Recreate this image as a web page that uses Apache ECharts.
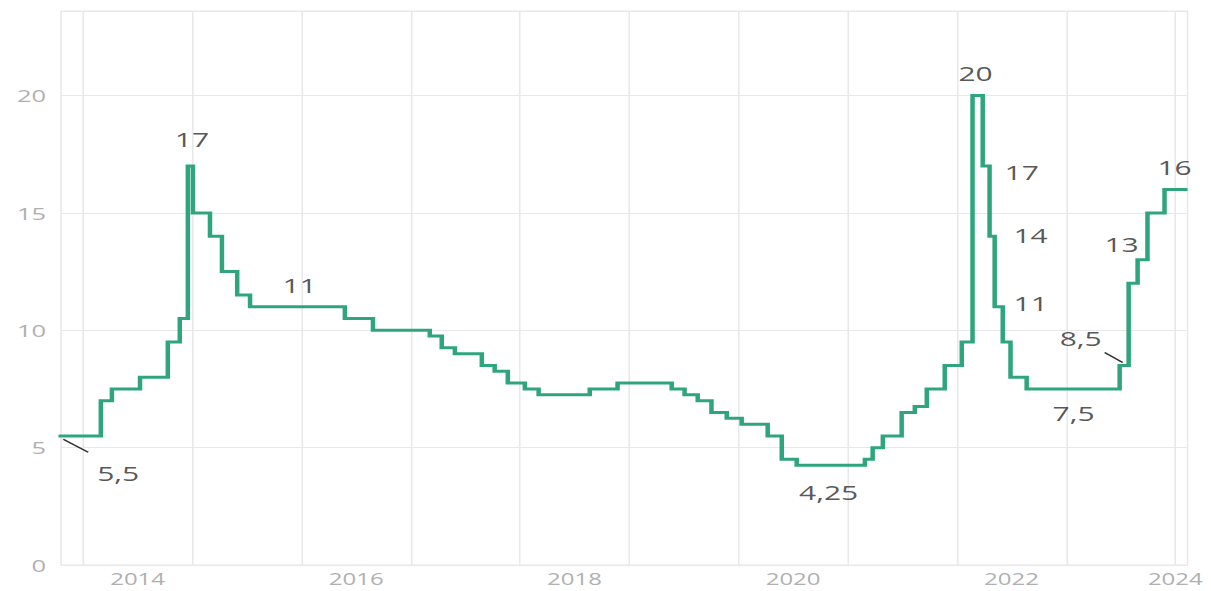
<!DOCTYPE html>
<html>
<head>
<meta charset="utf-8">
<script src="https://cdn.jsdelivr.net/npm/echarts@6/dist/echarts.min.js"></script>
<style>
  html, body { margin: 0; padding: 0; background: #fff; overflow: hidden; }
  #wrap { width: 1211px; height: 591px; overflow: hidden; }
  #chart { width: 807.33px; height: 591px; transform: scaleX(1.5); transform-origin: 0 0; }
</style>
</head>
<body>
<div id="wrap"><div id="chart"></div></div>
<script>
// ---- data ----
const rateDates = [
  '2013-09-13','2014-03-01','2014-04-07','2014-07-10','2014-10-11','2014-11-20','2014-12-17',
  '2015-01-03','2015-03-01','2015-04-10','2015-05-31','2015-07-13',
  '2016-05-25','2016-08-27',
  '2017-03-05','2017-04-14','2017-05-28','2017-08-26','2017-10-08','2017-11-21',
  '2018-01-17','2018-03-04','2018-08-22','2018-11-23',
  '2019-05-23','2019-07-05','2019-08-18','2019-10-03','2019-11-23',
  '2020-01-12','2020-04-08','2020-05-25','2020-07-14',
  '2021-02-27','2021-03-25','2021-04-28','2021-06-30','2021-08-13','2021-09-22','2021-11-21',
  '2022-01-17','2022-02-22','2022-03-28','2022-04-20','2022-05-07','2022-06-03','2022-06-29','2022-08-22',
  '2023-06-29','2023-07-29','2023-08-28','2023-09-30','2023-11-26',
  '2024-02-11'
];
const rateValues = [
  5.5, 7, 7.5, 8, 9.5, 10.5, 17,
  15, 14, 12.5, 11.5, 11,
  10.5, 10,
  9.75, 9.25, 9, 8.5, 8.25, 7.75,
  7.5, 7.25, 7.5, 7.75,
  7.5, 7.25, 7, 6.5, 6.25,
  6, 5.5, 4.5, 4.25,
  4.5, 5, 5.5, 6.5, 6.75, 7.5, 8.5,
  9.5, 20, 17, 14, 11, 9.5, 8, 7.5,
  8.5, 12, 13, 15, 16,
  16
];
const xMin = '2013-10-19';
const xMax = '2024-02-11';
const yearLines = ['2014-01-01','2015-01-01','2016-01-01','2017-01-01','2018-01-01','2019-01-01',
                   '2020-01-01','2021-01-01','2022-01-01','2023-01-01','2024-01-01'];
const xLabelDates = ['2014-07-02','2016-07-02','2018-07-02','2020-07-02','2022-07-02','2024-01-01'];
const xLabels = ['2014','2016','2018','2020','2022','2024'];
const yTicks = [0, 5, 10, 15, 20];

const annoDates  = ['2013-11-01','2014-12-17','2015-07-13','2020-07-14','2022-02-22','2022-03-28',
                    '2022-04-20','2022-05-07','2022-08-22','2023-06-29','2023-08-28','2023-11-26'];
const annoValues = [5.5, 17, 11, 4.25, 20, 17, 14, 11, 7.5, 8.5, 13, 16];
const annoTexts  = ['5,5','17','11','4,25','20','17','14','11','7,5','8,5','13','16'];

// ---- styles (label offsets in chart px) ----
const annoOffsets = [[35.5,37],[2.7,-26.5],[33,-21.5],[21.3,27],[2,-22],[26,6.5],
                     [27.3,-1],[24,-3.5],[31.3,24],[-26,-27],[-10.7,-15.5],[6.7,-22]];
const leaderLines = [
  { anno: 0, from: [-1.1, 3.3], to: [15.5, 16.3] },
  { anno: 9, from: [-10, -13], to: [2, -3] }
];

const T = d => Date.parse(d + 'T00:00:00Z');
const chart = echarts.init(document.getElementById('chart'), null, { renderer: 'svg' });
const gridColor = '#e8e8e8';

const option = {
  animation: false,
  backgroundColor: '#fff',
  textStyle: { fontFamily: 'Open Sans' },
  grid: {
    left: 40.7, right: 15.3, top: 11, bottom: 26,
    show: true, borderColor: gridColor, borderWidth: 1,
    outerBoundsMode: 'none'
  },
  xAxis: {
    type: 'value',
    min: T(xMin), max: T(xMax),
    axisLine: { show: false },
    axisTick: { show: false },
    splitLine: { show: false },
    axisLabel: {
      customValues: xLabelDates.map(T),
      hideOverlap: false,
      showMinLabel: true, showMaxLabel: true,
      color: '#b0b0b0', fontSize: 16, lineHeight: 14, margin: 7,
      formatter: function (v) {
        let best = 0, bd = Infinity;
        xLabelDates.forEach((d, i) => { const dd = Math.abs(T(d) - v); if (dd < bd) { bd = dd; best = i; } });
        return xLabels[best];
      }
    }
  },
  yAxis: {
    type: 'value', min: 0, max: 23.6, interval: 5,
    axisLine: { show: false }, axisTick: { show: false },
    splitLine: { lineStyle: { color: gridColor, width: 1 } },
    axisLabel: {
      color: '#b0b0b0', fontSize: 17, margin: 10, showMaxLabel: false,
      formatter: v => (yTicks.indexOf(v) >= 0 ? String(v) : '')
    }
  },
  series: [
    {
      type: 'line', data: [], z: 1, silent: true,
      markLine: {
        silent: true, z: 1, symbol: ['none', 'none'],
        label: { show: false },
        lineStyle: { color: gridColor, type: 'solid', width: 1 },
        data: yearLines.map(d => ({ xAxis: T(d) }))
      }
    },
    {
      type: 'line', z: 3, step: 'end', symbol: 'none', showSymbol: false,
      lineStyle: { color: '#2ea57c', width: 3, join: 'miter' },
      data: rateDates.map((d, i) => [T(d), rateValues[i]])
    },
    {
      type: 'scatter', z: 4, silent: true, clip: false, symbolSize: 1,
      itemStyle: { color: 'rgba(0,0,0,0)' },
      label: {
        show: true, position: 'inside', color: '#2b2b2b', fontSize: 20,
        align: 'center', verticalAlign: 'middle',
        formatter: p => annoTexts[p.dataIndex]
      },
      data: annoDates.map((d, i) => ({
        value: [T(d), annoValues[i]],
        label: { offset: annoOffsets[i] }
      }))
    }
  ]
};
chart.setOption(option);

const lines = leaderLines.map(l => {
  const p = chart.convertToPixel({ xAxisIndex: 0, yAxisIndex: 0 }, [T(annoDates[l.anno]), annoValues[l.anno]]);
  return {
    type: 'line', silent: true, z: 10,
    shape: { x1: p[0] + l.from[0], y1: p[1] + l.from[1], x2: p[0] + l.to[0], y2: p[1] + l.to[1] },
    style: { stroke: '#333', lineWidth: 1.4 }
  };
});
chart.setOption({ graphic: lines });
</script>
</body>
</html>
